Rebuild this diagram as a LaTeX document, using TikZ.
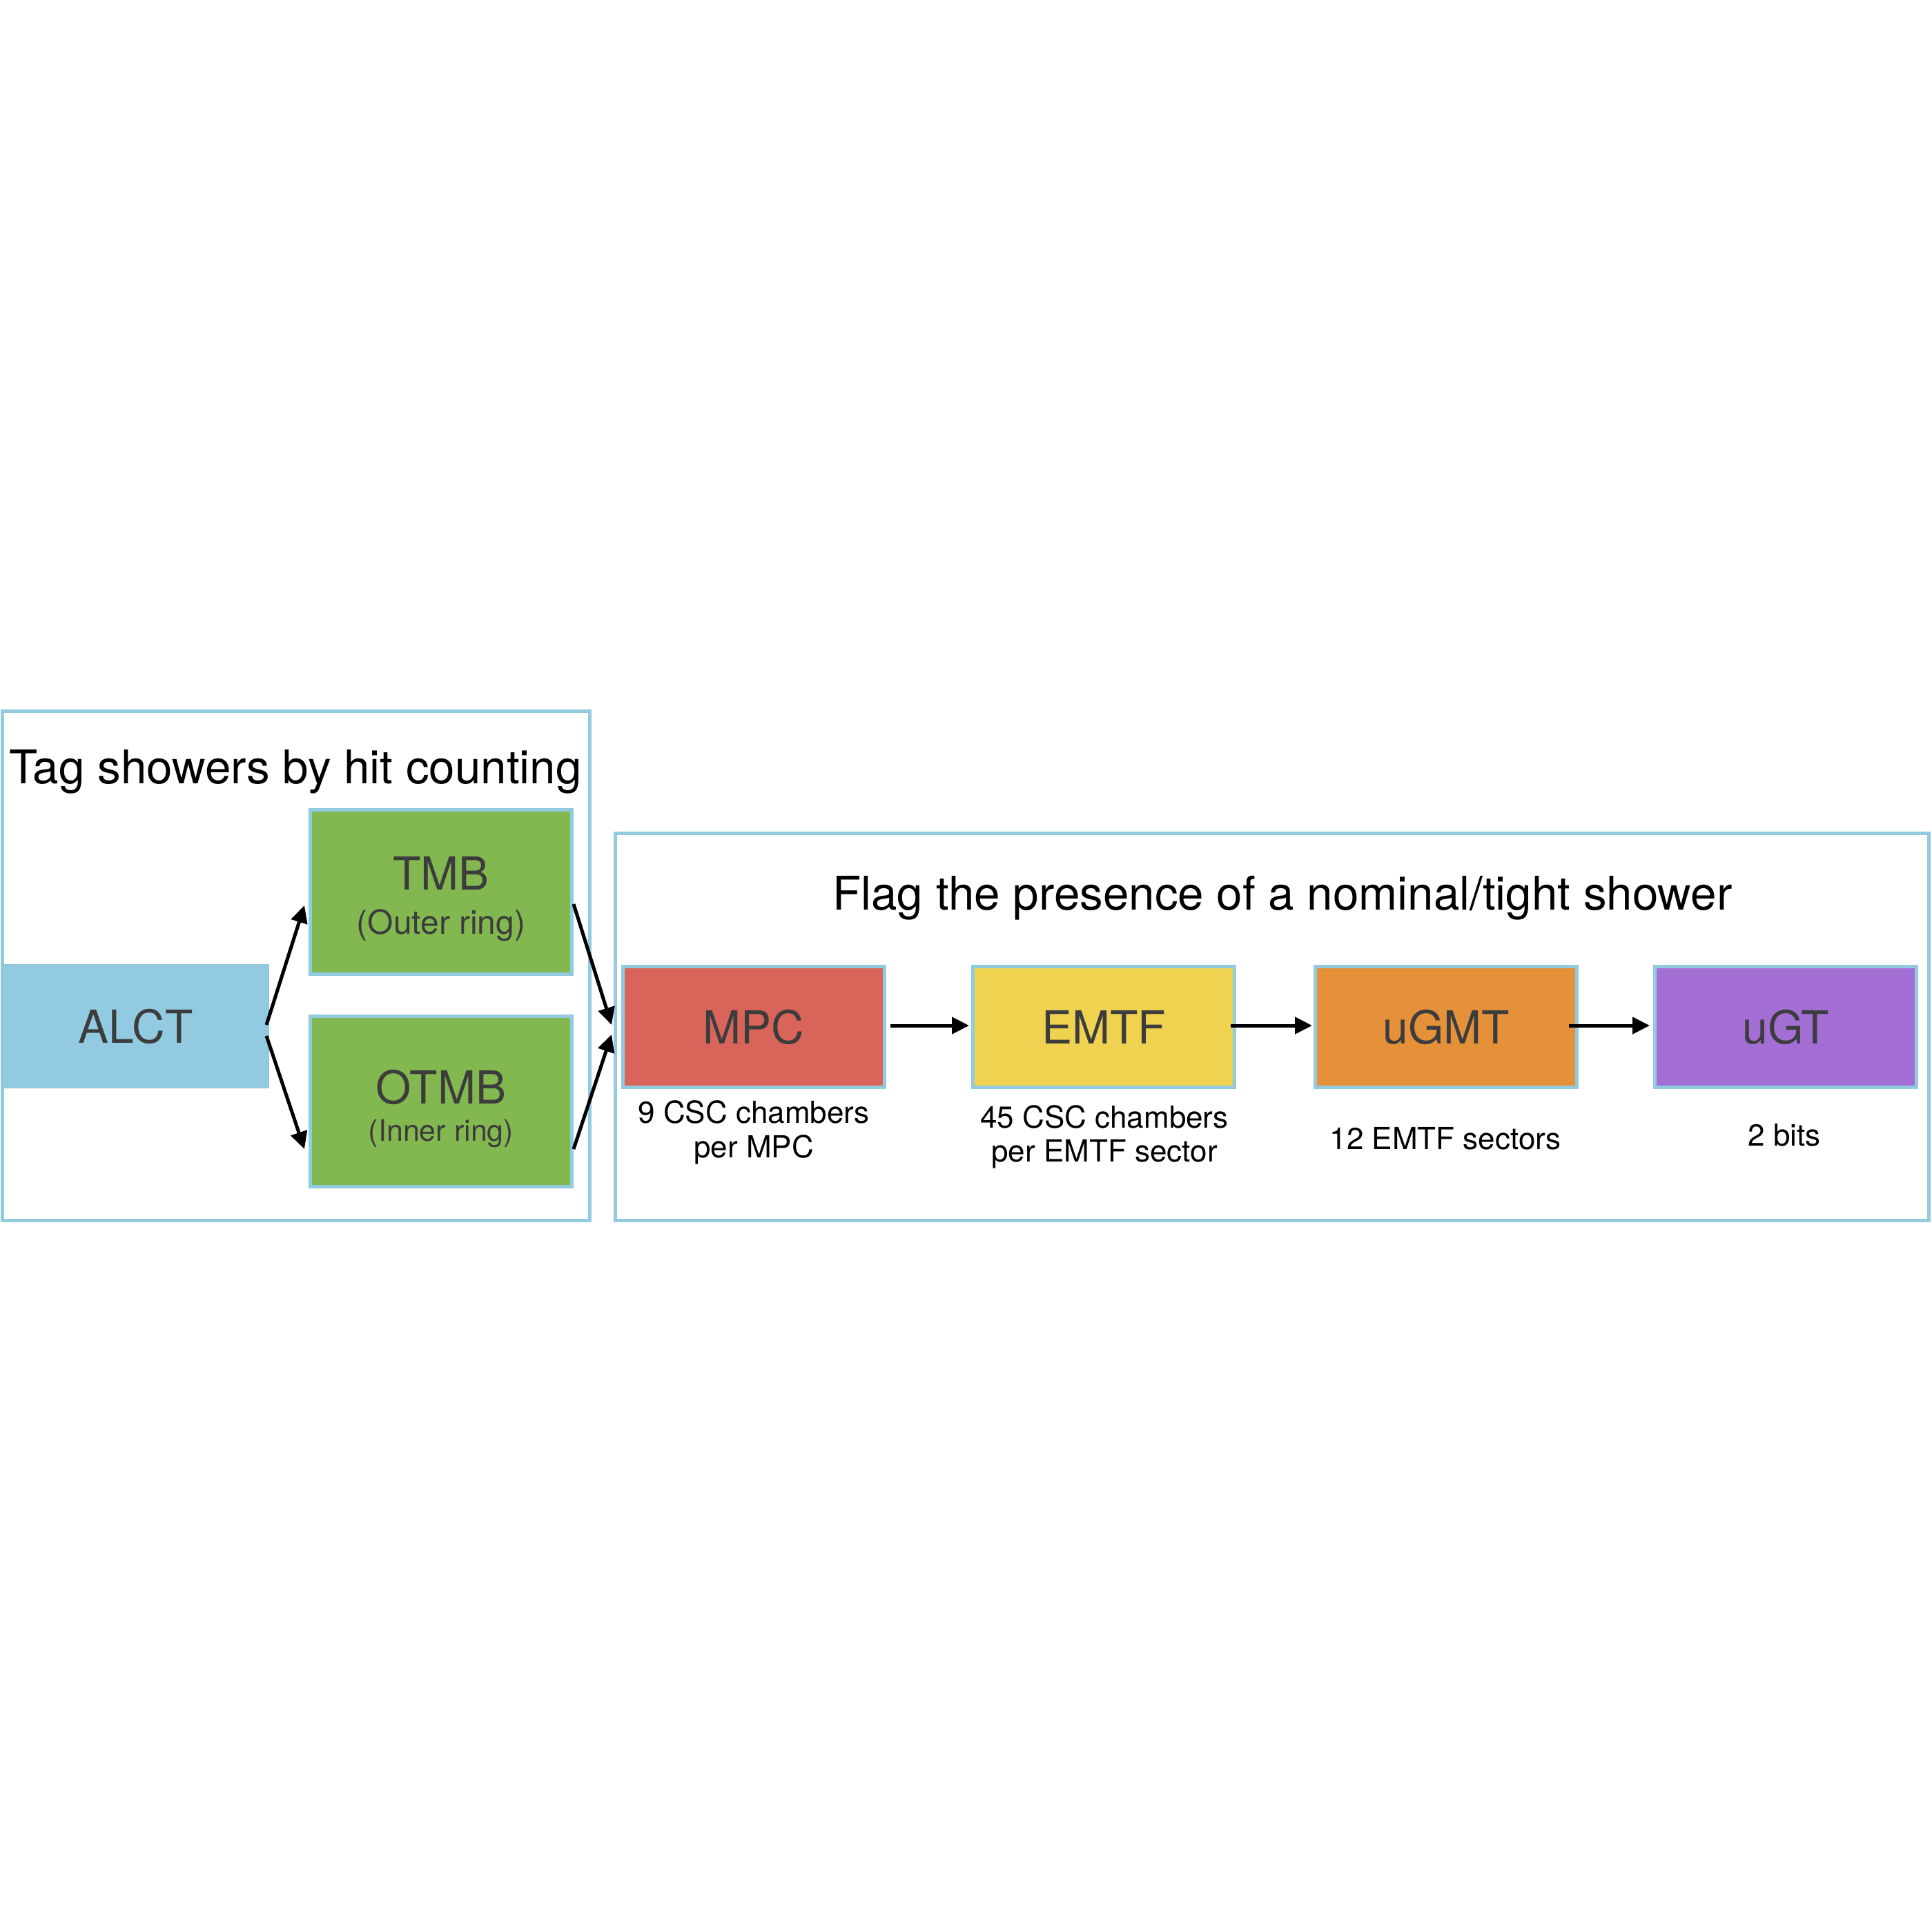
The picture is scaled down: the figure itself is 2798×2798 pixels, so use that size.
\documentclass[tikz,border=0pt]{standalone}
\usepackage{fontspec}
\setmainfont{TeX Gyre Heros}
\usetikzlibrary{arrows.meta}
\definecolor{bordblue}{HTML}{92CBE0}
\definecolor{alctblue}{HTML}{92CBE1}
\definecolor{tmbgreen}{HTML}{83B851}
\definecolor{mpcred}{HTML}{D9645A}
\definecolor{emtfyellow}{HTML}{EED250}
\definecolor{ugmtorange}{HTML}{E5913A}
\definecolor{ugtpurple}{HTML}{A46FD4}
\definecolor{boxtext}{HTML}{3C3C3C}
\newcommand\myBigFont{\fontsize{66}{79}\selectfont}
\newcommand\myTitleFont{\fontsize{67.3}{80}\selectfont}
\newcommand\myOuterFont{\fontsize{48}{58}\selectfont}
\newcommand\myInnerFont{\fontsize{43}{52}\selectfont}
\newcommand\myLblFont{\fontsize{44}{50}\selectfont}
\tikzset{
  frame/.style={draw=bordblue, line width=5pt, inner sep=0pt},
  blk/.style={draw=bordblue, line width=5pt, inner sep=0pt, minimum width=379pt, minimum height=175pt, text=boxtext, font=\myBigFont},
  alctbox/.style={fill=alctblue, draw=alctblue!92!gray, line width=1pt, inner sep=0pt, text=boxtext, font=\myBigFont},
  boxname/.style={text=boxtext, font=\myBigFont, inner sep=0pt, anchor=base},
  titletext/.style={text=black, font=\myTitleFont, inner sep=0pt, anchor=base},
  lbl/.style={text=black, font=\myLblFont, inner sep=0pt, anchor=base},
  flow/.style={-{Triangle[length=25pt,width=24pt]}, line width=5pt, black}
}
\begin{document}
\begin{tikzpicture}[x=1pt,y=-1pt]
\useasboundingbox (0,0) rectangle (2798,2798);
\fill[white] (0,0) rectangle (2798,2798);
% frames
\node[frame, minimum width=850.5pt, minimum height=738pt] (leftframe) at (428.75,1399) {};
\node[frame, minimum width=1903pt, minimum height=561pt] (rightframe) at (1842.5,1487.5) {};
% titles
\node[titletext] (lefttitle) at (428,1135) {Tag showers by hit counting};
\node[titletext] (righttitle) at (1858,1318) {Flag the presence of a nominal/tight shower};
% left blocks
\node[alctbox, minimum width=386pt, minimum height=179pt] (alct) at (196.5,1487) {ALCT};
\node[blk, fill=tmbgreen, minimum height=238pt] (tmb) at (639,1292.5) {};
\node[blk, fill=tmbgreen, minimum height=247pt] (otmb) at (639,1596) {};
\node[boxname] (tmbname) at (639,1289) {TMB};
\node[boxname, font=\myOuterFont] (tmbsub) at (639,1353) {(Outer ring)};
\node[boxname] (otmbname) at (639,1599) {OTMB};
\node[boxname, font=\myInnerFont] (otmbsub) at (639,1653) {(Inner ring)};
% right blocks
\node[blk, fill=mpcred] (mpc) at (1092,1488) {MPC};
\node[blk, fill=emtfyellow] (emtf) at (1599,1488) {EMTF};
\node[blk, fill=ugmtorange] (ugmt) at (2095,1488) {uGMT};
\node[blk, fill=ugtpurple] (ugt) at (2587,1488) {uGT};
% labels
\node[lbl] (mpcl1) at (1092,1627) {9 CSC chambers};
\node[lbl] (mpcl2) at (1092,1677) {per MPC};
\node[lbl] (emtfl1) at (1600,1634) {45 CSC chambers};
\node[lbl] (emtfl2) at (1600,1683) {per EMTF sector};
\node[lbl] (ugmtl) at (2094,1665) {12 EMTF sectors};
\node[lbl] (ugtl) at (2585,1660) {2 bits};
% arrows
\draw[flow] ([xshift=-4pt,yshift=2pt]alct.east) -- ([xshift=-6pt,yshift=-19.5pt]tmb.west);
\draw[flow] ([xshift=-4pt,yshift=-14pt]alct.east) -- ([xshift=-6pt,yshift=-69pt]otmb.west);
\draw[flow] ([yshift=-17.5pt]tmb.east) -- ([xshift=-14pt,yshift=3pt]mpc.west);
\draw[flow] ([yshift=-69pt]otmb.east) -- ([xshift=-14pt,yshift=-11pt]mpc.west);
\draw[flow] ([xshift=6pt,yshift=2pt]mpc.east) -- ([xshift=-3pt,yshift=2pt]emtf.west);
\draw[flow] ([xshift=-8pt,yshift=2pt]emtf.east) -- ([xshift=-2pt,yshift=2pt]ugmt.west);
\draw[flow] ([xshift=-14pt,yshift=2pt]ugmt.east) -- ([xshift=-5pt,yshift=2pt]ugt.west);
\end{tikzpicture}
\end{document}
